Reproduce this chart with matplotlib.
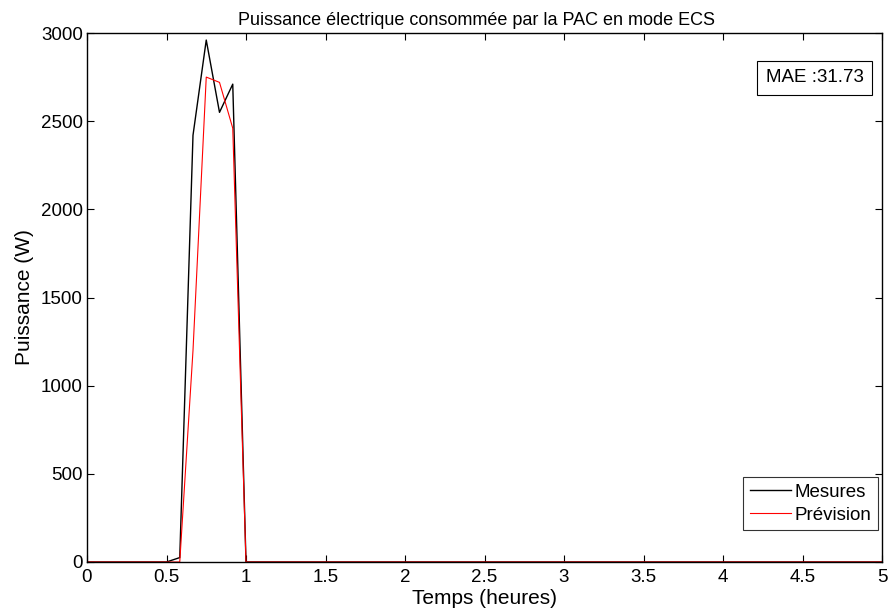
import matplotlib
matplotlib.use("Agg")
import matplotlib.pyplot as plt

plt.rcParams["font.family"] = ["Liberation Sans", "DejaVu Sans"]

# time in hours (5-min steps around the ECS run, zero elsewhere)
t = [0.0, 0.5, 7/12, 8/12, 9/12, 10/12, 11/12, 1.0, 5.0]
mesures = [0, 0, 25, 2420, 2960, 2550, 2710, 0, 0]
prevision = [0, 0, 0, 1200, 2750, 2720, 2460, 0, 0]
mae = 31.73

fig = plt.figure(figsize=(8.92, 6.15), dpi=100)
ax = fig.add_axes([87/892, 1 - 562/615, 795/892, 529/615])
ax.plot(t, mesures, color="k", lw=1, label="Mesures")
ax.plot(t, prevision, color="red", lw=0.8, label="Prévision")

ax.set_xlim(0, 5)
ax.set_ylim(0, 3000)
ax.set_xticks([0, 0.5, 1, 1.5, 2, 2.5, 3, 3.5, 4, 4.5, 5])
ax.set_xticklabels(["0", "0.5", "1", "1.5", "2", "2.5", "3", "3.5", "4", "4.5", "5"])
ax.set_yticks(range(0, 3001, 500))
ax.tick_params(direction="in", top=True, right=True, length=5, labelsize=13.5)
ax.tick_params(axis="x", pad=5)
ax.tick_params(axis="y", pad=3)
for s in ax.spines.values():
    s.set_linewidth(1)

ax.set_xlabel("Temps (heures)", fontsize=15, labelpad=2)
ax.set_ylabel("Puissance (W)", fontsize=15, labelpad=5)
ax.set_title("Puissance électrique consommée par la PAC en mode ECS", fontsize=13, pad=6,
             x=0.49)

ax.text(0.977, 0.915, f"MAE :{mae:.2f}", transform=ax.transAxes, ha="right", va="center",
        fontsize=13.5, bbox=dict(boxstyle="square,pad=0.45", fc="white", ec="k", lw=0.8))

leg = ax.legend(loc="lower right", fontsize=13.5, fancybox=False, edgecolor="k",
                handlelength=2.2, borderpad=0.35, labelspacing=0.3, handletextpad=0.2,
                borderaxespad=0, bbox_to_anchor=(0.995, 0.06))
leg.get_frame().set_linewidth(0.8)

fig.savefig("out.png", dpi=100)
